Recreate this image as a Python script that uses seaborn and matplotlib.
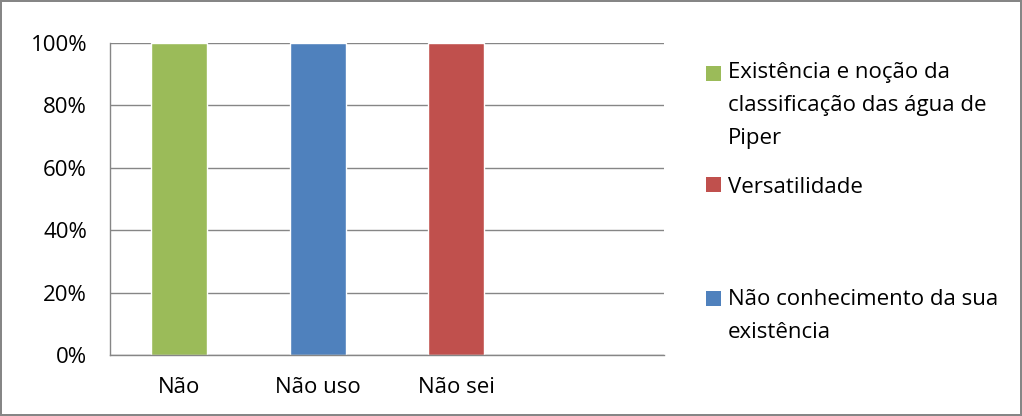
import matplotlib
matplotlib.use("Agg")
import matplotlib.pyplot as plt
import seaborn as sns
import pandas as pd
from matplotlib.patches import Rectangle
from matplotlib.ticker import PercentFormatter

# data
categories = ["Não", "Não uso", "Não sei"]
values = [1.0, 1.0, 1.0]
slots = categories + [" "]   # empty fourth slot in the original
bar_colors = ["#9BBB59", "#4F81BD", "#C0504D"]

legend_labels = [
    "Existência e noção da\nclassificação das água de\nPiper",
    "Versatilidade",
    "Não conhecimento da sua\nexistência",
]
legend_colors = ["#9BBB59", "#C0504D", "#4F81BD"]

GRAY = "#868686"
W, H = 1022, 416
FS = 16
LINE_PX = 31

sns.set_style("white")
plt.rcParams["font.family"] = ["Open Sans", "DejaVu Sans"]

df = pd.DataFrame({"cat": categories, "val": values})

fig = plt.figure(figsize=(W / 100, H / 100), dpi=100, edgecolor=GRAY, linewidth=1.5)
ax = fig.add_axes([110 / W, 61 / H, 554 / W, 312 / H])

sns.barplot(data=df, x="cat", y="val", hue="cat", order=slots,
            palette=dict(zip(categories, bar_colors)), width=0.404,
            saturation=1, legend=False, ax=ax)

ax.set_ylim(0, 1)
ax.set_xlim(-0.5, len(slots) - 0.5)
ax.set_yticks([0, 0.2, 0.4, 0.6, 0.8, 1.0])
ax.yaxis.set_major_formatter(PercentFormatter(1.0, decimals=0))
ax.set_xlabel("")
ax.set_ylabel("")
ax.yaxis.grid(True, color=GRAY, linewidth=1)
ax.set_axisbelow(True)

for side in ["top", "right"]:
    ax.spines[side].set_visible(False)
for side in ["left", "bottom"]:
    ax.spines[side].set_color(GRAY)
    ax.spines[side].set_linewidth(1)

# category labels centred, tick marks at the boundaries
ax.set_xticks(range(len(slots)))
ax.set_xticklabels(slots)
ax.set_xticks([i - 0.5 for i in range(len(slots) + 1)], minor=True)
ax.tick_params(axis="x", which="major", length=0, pad=16, labelsize=FS, labelcolor="black")
ax.tick_params(axis="x", which="minor", length=6, width=1, color=GRAY, direction="out")
ax.tick_params(axis="y", length=6.5, width=1, color=GRAY, direction="out", pad=10,
               labelsize=FS, labelcolor="black")

# legend entries, tops spread evenly like the original (first-line baselines in px)
legend_baselines = [82, 193, 307]
for lab, col, base in zip(legend_labels, legend_colors, legend_baselines):
    fig.patches.append(Rectangle((706 / W, 1 - (base - 1) / H), 15 / W, 15 / H,
                                 transform=fig.transFigure, facecolor=col,
                                 edgecolor="none"))
    # va="baseline" sits on the last line, so shift by the extra lines
    last_base = base + LINE_PX * lab.count("\n")
    fig.text(728 / W, 1 - last_base / H, lab, ha="left", va="baseline",
             fontsize=FS, linespacing=1.75, color="black")

fig.savefig("out.png", dpi=100)
